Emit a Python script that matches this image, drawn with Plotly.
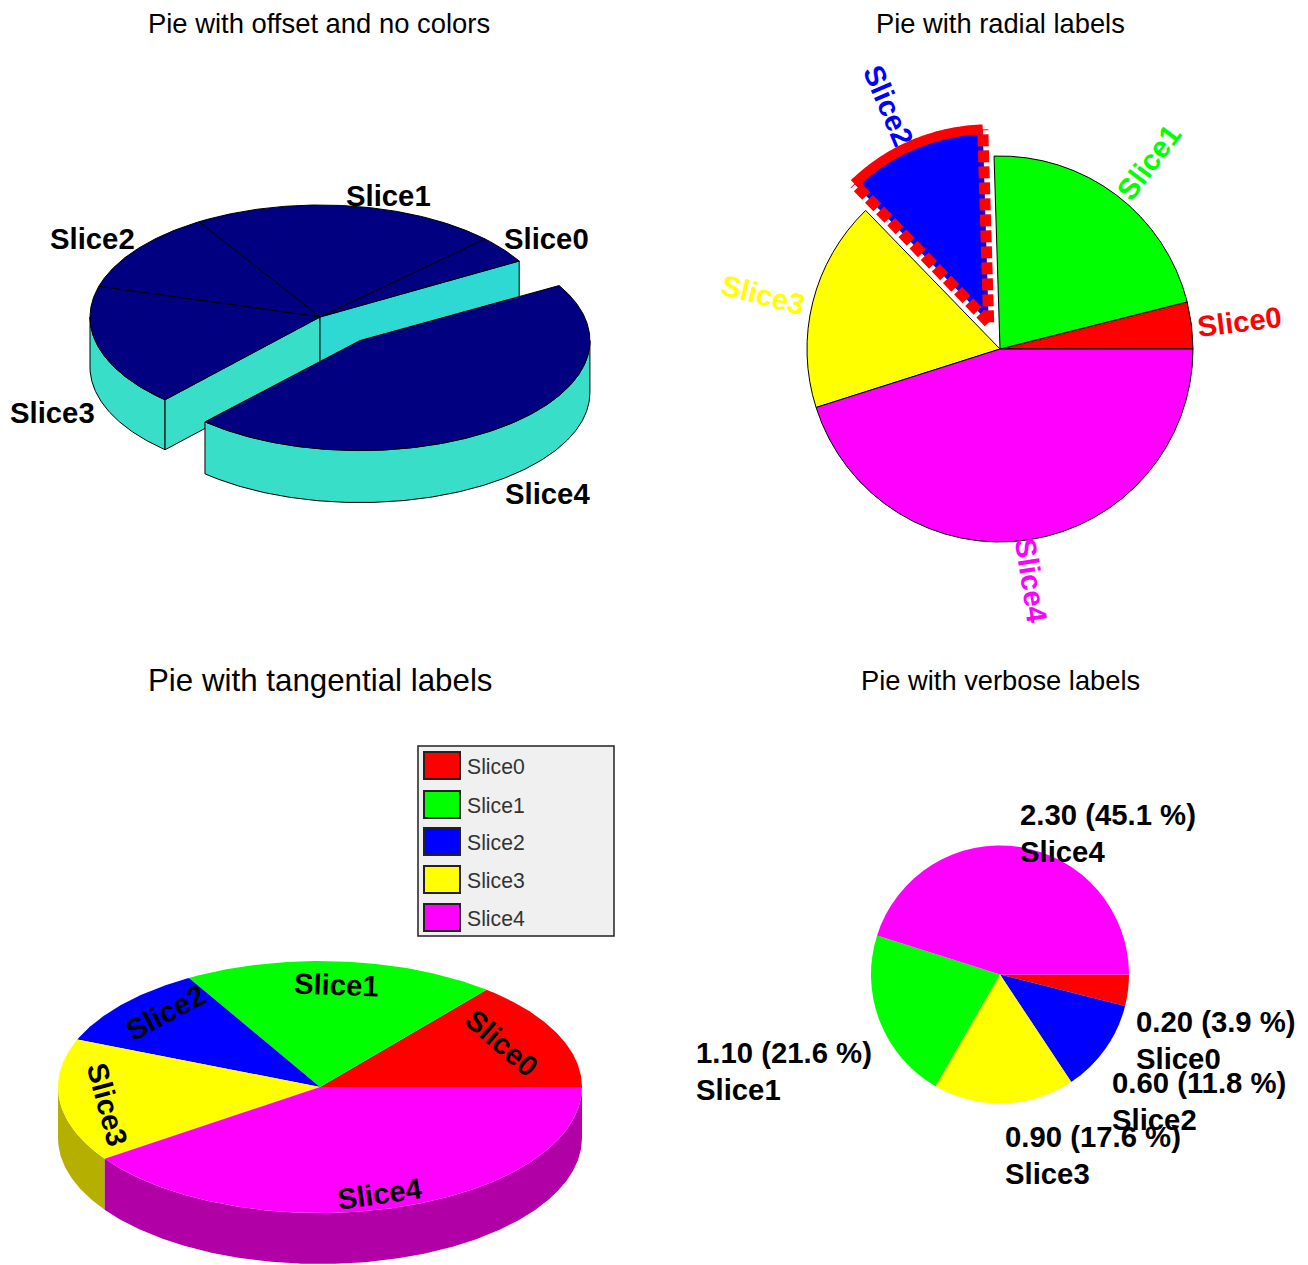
import numpy as np
import plotly.graph_objects as go

# ---- data ----
slice_names = ["Slice0", "Slice1", "Slice2", "Slice3", "Slice4"]
slice_values = [0.2, 1.1, 0.6, 0.9, 2.3]
tangential_values = [0.8, 1.1, 0.6, 0.9, 2.3]   # slice 0 of the third pie is larger
verbose_order = [0, 2, 3, 1, 4]                 # the verbose pie is sorted
slice_colors = ["#ff0000", "#00ff00", "#0000ff", "#ffff00", "#ff00ff"]

W, H = 1308, 1265
FONT = "Liberation Sans, Arial, sans-serif"
NAVY = "#000080"
fig = go.Figure()


def angles(values, offset=0.0):
    cum = np.cumsum([0.0] + list(values)) / sum(values) * 360.0 + offset
    return list(zip(cum[:-1], cum[1:]))


def arc(cx, cy, rx, ry, a0, a1):
    t = np.radians(np.linspace(a0, a1, max(int(abs(a1 - a0)) * 2, 2) + 1))
    return cx + rx * np.cos(t), cy - ry * np.sin(t)


def poly(xs, ys, fill, line=None):
    fig.add_trace(go.Scatter(
        x=np.r_[xs, xs[0]], y=np.r_[ys, ys[0]], mode="lines", fill="toself", fillcolor=fill,
        line=dict(color=line or fill, width=1 if line else 0), hoverinfo="skip", showlegend=False,
        xaxis="x", yaxis="y"))


def wedge(cx, cy, rx, ry, a0, a1, fill, line=None):
    ax, ay = arc(cx, cy, rx, ry, a0, a1)
    poly(np.r_[cx, ax], np.r_[cy, ay], fill, line)


def rim(cx, cy, rx, ry, a0, a1, depth, fill, line=None):
    ax, ay = arc(cx, cy, rx, ry, a0, a1)
    poly(np.r_[ax, ax[::-1]], np.r_[ay, ay[::-1] + depth], fill, line)


# ---- top left: 3d, no colours, offset slice ----
cx, cy, rx, ry, depth = 320, 317, 230, 112, 50
spans1 = angles(slice_values, 30.0)
side = "#38dec8"
a3 = spans1[3][1]
px, py = cx + rx * np.cos(np.radians(a3)), cy - ry * np.sin(np.radians(a3))
rim(cx, cy, rx, ry, 180, a3, depth, side, "black")
poly(np.array([px, cx, cx, px]), np.array([py, cy, cy + depth, py + depth]), side, "black")
a0 = spans1[0][0]
qx, qy = cx + rx * np.cos(np.radians(a0)), cy - ry * np.sin(np.radians(a0))
poly(np.array([cx, qx, qx, cx]), np.array([cy, qy, qy + depth, cy + depth]), "#2dd9d2", "black")
for s in spans1[:4]:
    wedge(cx, cy, rx, ry, s[0], s[1], NAVY, "black")
mid = np.radians(sum(spans1[4]) / 2)
ox, oy = cx + 0.27 * rx * np.cos(mid) + 1, cy - 0.27 * ry * np.sin(mid)
rim(ox, oy, rx, ry - 2, spans1[4][0], 360, depth + 2, side, "black")
wedge(ox, oy, rx, ry - 2, spans1[4][0], spans1[4][1], NAVY, "black")

# ---- bottom left: 3d with colours ----
cx3, cy3, rx3, ry3, depth3 = 320, 1087, 262, 126, 51
spans3 = angles(tangential_values)
rim(cx3, cy3, rx3, ry3, 180, spans3[3][1], depth3, "#b5b000")
rim(cx3, cy3, rx3, ry3, spans3[4][0], 360, depth3, "#b000a6")
for s, c in zip(spans3, slice_colors):
    wedge(cx3, cy3, rx3, ry3, s[0], s[1], c)

# ---- top right: flat pie with an exploded slice ----
R2, CX2, CY2, PULL = 193, 1000, 349, 0.15
half2 = R2 * (1 + PULL)
# plotly ends the first counterclockwise slice at `rotation`
first_span = slice_values[0] / sum(slice_values) * 360.0
fig.add_trace(go.Pie(
    values=slice_values, labels=slice_names, sort=False, direction="counterclockwise",
    rotation=90 - first_span,
    pull=[0, 0, PULL, 0, 0], textinfo="none", showlegend=False,
    marker=dict(colors=slice_colors, line=dict(color="black", width=[1, 1, 0, 1, 1])),
    domain=dict(x=[(CX2 - half2) / W, (CX2 + half2) / W], y=[1 - (CY2 + half2) / H, 1 - (CY2 - half2) / H])))

# ---- bottom right: flat sorted pie ----
R4, CX4, CY4 = 129, 1000, 974.5
fig.add_trace(go.Pie(
    values=[slice_values[i] for i in verbose_order], labels=[slice_names[i] for i in verbose_order],
    sort=False, direction="clockwise", rotation=90, textinfo="none", showlegend=False,
    marker=dict(colors=[slice_colors[i] for i in verbose_order], line=dict(width=0)),
    domain=dict(x=[(CX4 - R4) / W, (CX4 + R4) / W], y=[1 - (CY4 + R4) / H, 1 - (CY4 - R4) / H])))

# red outline of the exploded slice, drawn above the pie layer
s2 = angles(slice_values)[2]
m2 = np.radians(sum(s2) / 2)
ax2 = CX2 + PULL * R2 * np.cos(m2)
ay2 = CY2 - PULL * R2 * np.sin(m2)
ex, ey = arc(ax2, ay2, R2, R2, s2[0], s2[1])
shapes = []
arc_path = "M " + " L ".join(f"{a:.1f},{b:.1f}" for a, b in zip(ex, ey))
shapes.append(dict(type="path", path=arc_path, xref="x", yref="y", layer="above",
                   line=dict(color="#ff0000", width=10)))
for i in (0, -1):
    shapes.append(dict(type="path", path=f"M {ax2:.1f},{ay2:.1f} L {ex[i]:.1f},{ey[i]:.1f}", xref="x", yref="y",
                       layer="above", line=dict(color="#ff0000", width=11, dash="12px,4px")))

# ---- legend box ----
LEG_TOPS = [752, 791, 828, 866, 904]
shapes.append(dict(type="rect", x0=418, x1=614, y0=746, y1=936, xref="x", yref="y", layer="above",
                   fillcolor="#f0f0f0", line=dict(color="#222222", width=1.5)))
annotations = []
for top, name, col in zip(LEG_TOPS, slice_names, slice_colors):
    shapes.append(dict(type="rect", x0=424, x1=460, y0=top, y1=top + 27, xref="x", yref="y", layer="above",
                       fillcolor=col, line=dict(color="#222222", width=2)))
    annotations.append(dict(x=464.5, y=top + 14.5, text=name, xanchor="left",
                            font=dict(size=21.2, color="#333333")))


def label(x, y, text, size=29.3, color="black", angle=0, xanchor="center", bold=True):
    annotations.append(dict(x=x, y=y, text=f"<b>{text}</b>" if bold else text, textangle=angle, xanchor=xanchor,
                            font=dict(size=size, color=color)))


# titles
label(319, 23, "Pie with offset and no colors", 27.4, bold=False)
label(1000, 23, "Pie with radial labels", 27.3, bold=False)
label(320, 680, "Pie with tangential labels", 31.3, bold=False)
label(1000, 680, "Pie with verbose labels", 27.3, bold=False)

# top left labels
POS1 = [(546, 238), (388, 195), (92, 238), (52, 412), (547, 493)]
for (x, y), n in zip(POS1, slice_names):
    label(x, y, n)

# radial labels
POS2 = [(1239, 321), (1148, 162), (889, 105), (763, 294), (1032, 580)]
ANG2 = [-7, -53, 67, 14.5, 81.4]
for (x, y), n, c, a in zip(POS2, slice_names, slice_colors, ANG2):
    label(x, y, n, color=c, angle=a)

# tangential labels
POS3 = [(502, 1042), (336, 984), (165, 1012), (108, 1104), (379, 1193)]
ANG3 = [41, 2, -28, 75, -8]
for (x, y), n, a in zip(POS3, slice_names, ANG3):
    label(x, y, n, angle=a)

# verbose labels
POS4 = [(1133.5, 1021), (693.5, 1052), (1109.5, 1082), (1002.5, 1136), (1017.5, 814)]
LINE_GAP = 37
total = sum(slice_values)
for (x, y), n, v in zip(POS4, slice_names, slice_values):
    label(x, y, f"{v:.2f} ({v / total * 100:.1f} %)", xanchor="left")
    label(x, y + LINE_GAP, n, xanchor="left")

for a in annotations:
    a.update(xref="x", yref="y", yanchor="middle", showarrow=False)

fig.update_layout(
    width=W, height=H, margin=dict(l=0, r=0, t=0, b=0, pad=0), autosize=False,
    paper_bgcolor="white", plot_bgcolor="white", showlegend=False,
    font=dict(family=FONT, color="black"),
    xaxis=dict(range=[0, W], visible=False, domain=[0, 1], fixedrange=True),
    yaxis=dict(range=[H, 0], visible=False, domain=[0, 1], fixedrange=True),
    shapes=shapes, annotations=annotations)

fig.write_html("out.html", post_script="document.body.style.margin='0';document.body.style.overflow='hidden';",
               config=dict(displayModeBar=False))
